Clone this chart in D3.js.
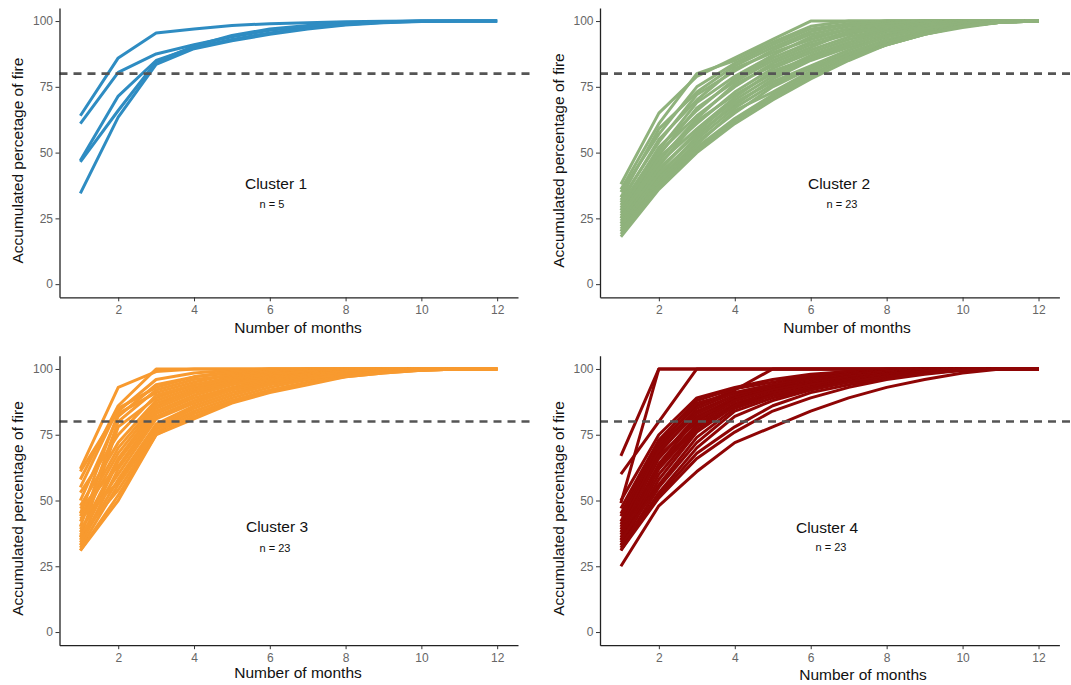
<!DOCTYPE html>
<html>
<head>
<meta charset="utf-8">
<script src="https://cdn.jsdelivr.net/npm/d3@7"></script>
<style>
  body { margin: 0; background: #fff; }
  svg { display: block; font-family: "Liberation Sans", Arial, sans-serif; }
</style>
</head>
<body>
<div id="chart"></div>
<script>
// data
const months = [1, 2, 3, 4, 5, 6, 7, 8, 9, 10, 11, 12];
const xTicks = [2, 4, 6, 8, 10, 12];
const yTicks = [0, 25, 50, 75, 100];
const threshold = 80;
const clusterNames = ["Cluster 1", "Cluster 2", "Cluster 3", "Cluster 4"];
const clusterCounts = ["n = 5", "n = 23", "n = 23", "n = 23"];
const yTitles = [
  "Accumulated percetage of fire",
  "Accumulated percentage of fire",
  "Accumulated percentage of fire",
  "Accumulated percentage of fire",
];
const xTitle = "Number of months";

const cluster1 = [
  [64, 86, 95.5, 97, 98.3, 99, 99.4, 99.7, 99.9, 100, 100, 100],
  [61, 80.5, 87.5, 91, 94, 96.5, 98, 99, 99.6, 100, 100, 100],
  [47, 71.5, 85, 90, 93, 95.5, 97.5, 98.7, 99.5, 99.9, 100, 100],
  [46.5, 66, 84.5, 90.5, 94.5, 97, 98.3, 99.2, 99.7, 100, 100, 100],
  [34.5, 63.5, 83.5, 89.5, 92.5, 95, 97, 98.5, 99.4, 99.8, 100, 100],
];

const cluster2 = [
  [38, 65, 79, 86, 93, 100, 100, 100, 100, 100, 100, 100],
  [36, 61, 80, 85, 92, 98, 100, 100, 100, 100, 100, 100],
  [35, 57, 75, 84, 91, 97, 99, 100, 100, 100, 100, 100],
  [33, 59, 73, 83, 90, 96, 99, 100, 100, 100, 100, 100],
  [32, 54, 72, 81, 89, 95, 98, 99.5, 100, 100, 100, 100],
  [31, 55, 70, 82, 88, 93, 97, 99, 100, 100, 100, 100],
  [30, 51, 69, 79, 87, 94, 97, 99, 100, 100, 100, 100],
  [29, 52, 66, 78, 86, 92, 96, 98, 99.5, 100, 100, 100],
  [28, 49, 67, 77, 85, 91, 95, 98, 99, 100, 100, 100],
  [28, 50, 64, 75, 84, 90, 96, 97, 99, 100, 100, 100],
  [27, 47, 63, 76, 83, 89, 94, 97, 99, 100, 100, 100],
  [26, 48, 61, 73, 82, 88, 93, 96.5, 98.5, 99.5, 100, 100],
  [25, 45, 62, 72, 80, 87, 92, 96, 98, 99.5, 100, 100],
  [25, 46, 59, 71, 81, 86, 91, 95, 98, 99.5, 100, 100],
  [24, 43, 58, 70, 79, 86, 91, 95, 97.5, 99, 100, 100],
  [23, 44, 57, 68, 78, 85, 90, 94, 97, 99, 100, 100],
  [23, 41, 56, 69, 77, 83, 89, 94, 97, 99, 100, 100],
  [22, 42, 55, 67, 76, 82, 88, 93, 96, 98.5, 99.5, 100],
  [21, 40, 54, 65, 75, 82, 87, 92, 96, 98, 99.5, 100],
  [20, 39, 53, 66, 73, 81, 87, 92, 95.5, 98, 99.5, 100],
  [20, 38, 52, 63, 72, 80, 86, 91, 95, 98, 99.5, 100],
  [19, 37, 51, 62, 71, 79, 86, 91, 95, 97.5, 99.5, 100],
  [18, 36, 50, 61, 70, 78, 85, 91, 95, 98, 99.5, 100],
];

const cluster3 = [
  [62, 93, 99, 100, 100, 100, 100, 100, 100, 100, 100, 100],
  [58, 86, 100, 100, 100, 100, 100, 100, 100, 100, 100, 100],
  [61, 84, 96, 98.5, 99.5, 100, 100, 100, 100, 100, 100, 100],
  [55, 85, 93, 97, 99, 100, 100, 100, 100, 100, 100, 100],
  [50, 82, 94, 97, 98.5, 99.5, 100, 100, 100, 100, 100, 100],
  [45, 83, 91, 95, 98, 99, 100, 100, 100, 100, 100, 100],
  [40, 80, 92, 96, 97.5, 99, 99.5, 100, 100, 100, 100, 100],
  [36, 78, 89, 94, 97, 98.5, 99.5, 100, 100, 100, 100, 100],
  [53, 75, 90, 94, 96.5, 98, 99, 100, 100, 100, 100, 100],
  [48, 72, 88, 93, 96, 98, 99, 99.5, 100, 100, 100, 100],
  [44, 70, 87, 92, 95.5, 97.5, 99, 99.5, 100, 100, 100, 100],
  [42, 68, 86, 92, 95, 97, 98.5, 99.5, 100, 100, 100, 100],
  [38, 66, 85, 91, 94.5, 97, 98, 99, 100, 100, 100, 100],
  [35, 65, 84, 90, 94, 96.5, 98, 99, 99.5, 100, 100, 100],
  [47, 63, 83, 89, 93, 96, 98, 99, 99.5, 100, 100, 100],
  [33, 62, 82, 88, 92.5, 95.5, 97.5, 99, 99.5, 100, 100, 100],
  [39, 60, 81, 87, 92, 95, 97, 98.5, 99.5, 100, 100, 100],
  [34, 58, 79, 86, 91, 94.5, 97, 98.5, 99.5, 100, 100, 100],
  [43, 57, 78, 85, 90, 94, 96.5, 98, 99, 100, 100, 100],
  [32, 56, 77, 84, 89, 93, 96, 98, 99, 99.5, 100, 100],
  [37, 54, 76, 83, 88, 92, 95, 97.5, 99, 99.5, 100, 100],
  [31, 52, 75, 82, 87.5, 91.5, 95, 97, 98.5, 99.5, 100, 100],
  [31, 50, 75, 81, 87, 91, 94, 97, 98.5, 99.5, 100, 100],
];

const cluster4 = [
  [67, 100, 100, 100, 100, 100, 100, 100, 100, 100, 100, 100],
  [49, 100, 100, 100, 100, 100, 100, 100, 100, 100, 100, 100],
  [60, 80, 100, 100, 100, 100, 100, 100, 100, 100, 100, 100],
  [50, 75, 89, 93, 96, 98, 99, 100, 100, 100, 100, 100],
  [47, 73, 88, 92.5, 95, 97.5, 99, 99.5, 100, 100, 100, 100],
  [45, 72, 86, 92, 100, 100, 100, 100, 100, 100, 100, 100],
  [44, 71, 87, 91, 94, 97, 98.5, 99.5, 100, 100, 100, 100],
  [42, 70, 85, 91, 94, 96.5, 98, 99.5, 100, 100, 100, 100],
  [41, 68, 84, 90, 94, 96, 98, 99, 100, 100, 100, 100],
  [40, 69, 83, 90, 93, 96, 98, 99, 100, 100, 100, 100],
  [39, 66, 82, 89, 93, 95.5, 97.5, 99, 99.5, 100, 100, 100],
  [38, 67, 80, 89, 92.5, 95, 97, 98.5, 99.5, 100, 100, 100],
  [37, 64, 81, 88, 92, 95, 97, 98.5, 99.5, 100, 100, 100],
  [36, 63, 79, 88, 92, 94.5, 97, 98.5, 99.5, 100, 100, 100],
  [35, 62, 78, 87, 91, 94, 96.5, 98, 99.5, 100, 100, 100],
  [34, 60, 77, 86, 91, 94, 96, 98, 99, 100, 100, 100],
  [33, 58, 76, 86, 90, 93, 96, 98, 99, 100, 100, 100],
  [35, 56, 74, 85, 90, 93, 95.5, 97.5, 99, 100, 100, 100],
  [32, 55, 72, 84, 89, 92.5, 95, 97, 99, 99.5, 100, 100],
  [31, 53, 70, 82, 88, 92, 95, 97, 98.5, 99.5, 100, 100],
  [33, 52, 68, 78, 86, 91, 94, 96.5, 98.5, 99.5, 100, 100],
  [31, 51, 66, 76, 84, 89, 93, 96, 98, 99.5, 100, 100],
  [25, 48, 61, 72, 78, 84, 89, 93, 96, 98.5, 100, 100],
];

const colors = ["#2e8cc2", "#8fb27c", "#f89a2f", "#8e0505"];

// panel layout (pixel boxes of each plot area)
const panels = [
  { lines: cluster1, left: 59.5, right: 518, top: 7.9, bottom: 297.3, yTitleX: 18, xTitleX: 298, xTitleY: 333, labelX: 276, labelY: 189, countX: 272, countY: 208 },
  { lines: cluster2, left: 600, right: 1059.4, top: 7.9, bottom: 297.3, yTitleX: 559, xTitleX: 847, xTitleY: 333, labelX: 839, labelY: 189, countX: 842, countY: 208 },
  { lines: cluster3, left: 59.5, right: 518, top: 355.8, bottom: 645.2, yTitleX: 18, xTitleX: 298, xTitleY: 678, labelX: 277, labelY: 532, countX: 275, countY: 552 },
  { lines: cluster4, left: 600, right: 1059.4, top: 355.8, bottom: 645.2, yTitleX: 559, xTitleX: 863, xTitleY: 680, labelX: 827, labelY: 533, countX: 831, countY: 551 },
];

const svg = d3
  .select("#chart")
  .append("svg")
  .attr("width", 1071)
  .attr("height", 685);

panels.forEach((p, k) => {
  // ggplot style 5% expansion on both scales
  const x = d3.scaleLinear().domain([0.45, 12.55]).range([p.left, p.right]);
  const y = d3.scaleLinear().domain([-5, 105]).range([p.bottom, p.top]);

  const g = svg.append("g");

  // cluster lines
  const line = d3
    .line()
    .x((d, i) => x(months[i]))
    .y((d) => y(d));

  g.selectAll("path.series")
    .data(p.lines)
    .join("path")
    .attr("class", "series")
    .attr("fill", "none")
    .attr("stroke", colors[k])
    .attr("stroke-width", 3)
    .attr("stroke-linejoin", "round")
    .attr("d", line);

  // 80% reference line
  g.append("line")
    .attr("x1", p.left)
    .attr("x2", p.right + 17)
    .attr("y1", y(threshold))
    .attr("y2", y(threshold))
    .attr("stroke", "#555")
    .attr("stroke-width", 2.6)
    .attr("stroke-dasharray", "8,6");

  // axes
  const xAxis = g
    .append("g")
    .attr("transform", `translate(0,${p.bottom})`)
    .call(d3.axisBottom(x).tickValues(xTicks).tickSize(4).tickSizeOuter(0).tickPadding(4.5));
  const yAxis = g
    .append("g")
    .attr("transform", `translate(${p.left},0)`)
    .call(d3.axisLeft(y).tickValues(yTicks).tickSize(4).tickSizeOuter(0).tickPadding(2.5));

  [xAxis, yAxis].forEach((a) => {
    a.select(".domain").attr("stroke", "#222").attr("stroke-width", 1.3);
    a.selectAll(".tick line").attr("stroke", "#333").attr("stroke-width", 1);
    a.selectAll(".tick text")
      .attr("fill", "#666")
      .style("font-size", "12px")
      .style("font-family", '"Liberation Sans", Arial, sans-serif');
  });

  // axis titles
  g.append("text")
    .attr("x", p.xTitleX)
    .attr("y", p.xTitleY)
    .attr("text-anchor", "middle")
    .attr("fill", "#111")
    .style("font-size", "15.5px")
    .text(xTitle);

  g.append("text")
    .attr("transform", `translate(${p.yTitleX},${y(50) + 8}) rotate(-90)`)
    .attr("text-anchor", "middle")
    .attr("dy", "0.35em")
    .attr("fill", "#111")
    .style("font-size", "15.5px")
    .text(yTitles[k]);

  // cluster annotation
  g.append("text")
    .attr("x", p.labelX)
    .attr("y", p.labelY)
    .attr("text-anchor", "middle")
    .attr("fill", "#111")
    .style("font-size", "15.5px")
    .text(clusterNames[k]);

  g.append("text")
    .attr("x", p.countX)
    .attr("y", p.countY)
    .attr("text-anchor", "middle")
    .attr("fill", "#111")
    .style("font-size", "11px")
    .text(clusterCounts[k]);
});
</script>
</body>
</html>
